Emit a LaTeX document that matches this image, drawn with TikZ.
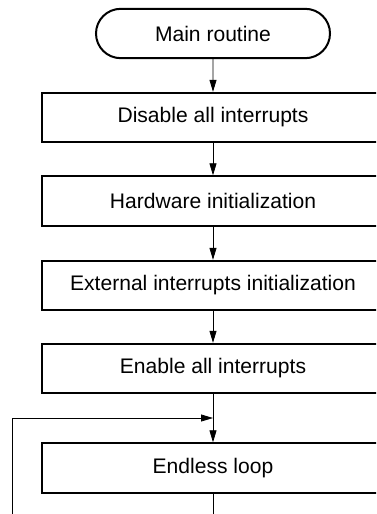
\documentclass[tikz,border=0pt]{standalone}
\usepackage{fontspec}
\setmainfont{Liberation Sans}
\usetikzlibrary{arrows.meta}
\usetikzlibrary{shapes.misc}

\tikzset{
  procbox/.style={draw,line width=1.5pt,minimum width=256.5pt,minimum height=37pt,inner sep=0pt,font=\fontsize{15.8}{19}\selectfont},
  termbox/.style={rounded rectangle,draw,line width=1.5pt,minimum width=175.5pt,minimum height=37pt,inner sep=0pt,font=\fontsize{15.8}{19}\selectfont},
  flow/.style={line width=0.6pt,-{Triangle[length=9pt,width=5.25pt]}}
}

\begin{document}
\begin{tikzpicture}[x=0.75pt,y=0.75pt,yscale=-1,xscale=1]
		\useasboundingbox (0,0) rectangle (376,514);
		\clip (0,0) rectangle (376,514);

		% Terminal
		\node (main) [termbox] at (213,33.5) {Main routine};
		% Process boxes
		\node (disable) [procbox] at (213,117.5) {Disable all interrupts};
		\node (hwinit) [procbox] at (213,201) {Hardware initialization};
		\node (extinit) [procbox] at (213,285.5) {External interrupts initialization};
		\node (enable) [procbox] at (213,368.5) {Enable all interrupts};
		\node (endless) [procbox] at (213,468) {Endless loop};

		% Connectors
		\draw [flow] (main) -- (disable);
		\draw [flow] (disable) -- (hwinit);
		\draw [flow] (hwinit) -- (extinit);
		\draw [flow] (extinit) -- (enable);
		\draw [flow] (enable) -- (endless);

		% Loop back (runs off the bottom edge)
		\coordinate (loopjoin) at (213,418);
		\coordinate (loopdown) at (213,540);
		\coordinate (loopleft) at (12,540);
		\coordinate (loopup) at (12,418);
		\draw [flow] (endless.south) -- (loopdown) -- (loopleft) -- (loopup) -- (loopjoin);
\end{tikzpicture}
\end{document}
